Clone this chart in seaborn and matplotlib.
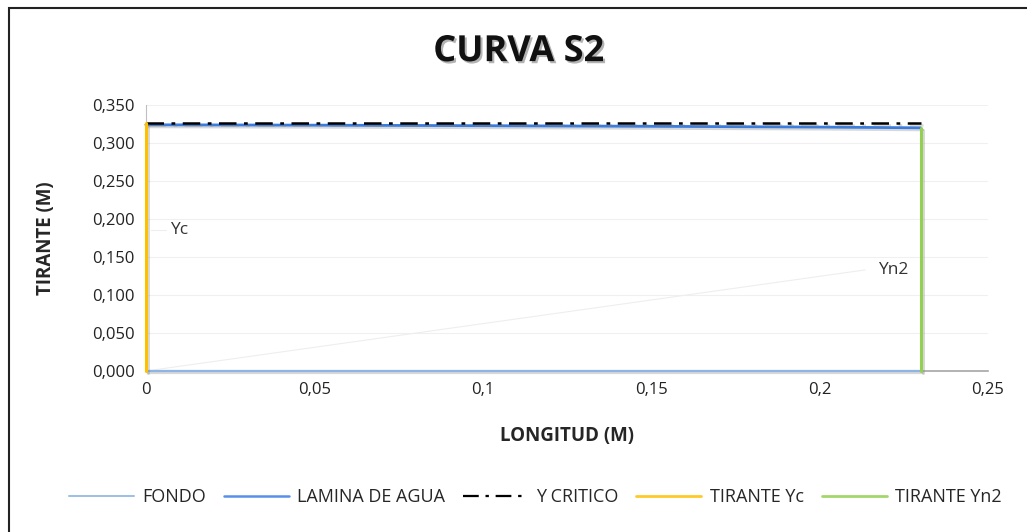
import matplotlib
matplotlib.use("Agg")
import matplotlib.pyplot as plt
import matplotlib.patheffects as pe
from matplotlib.ticker import FuncFormatter, MultipleLocator
from matplotlib.patches import Rectangle
from matplotlib.lines import Line2D
import seaborn as sns
import pandas as pd

# ---- data ----
fondo_x = [0.0, 0.23]
fondo_y = [0.0, 0.0]
lamina_x = [0.0, 0.05, 0.10, 0.15, 0.20, 0.23]
lamina_y = [0.324, 0.3235, 0.3228, 0.3220, 0.3210, 0.3200]
critico_x = [0.0, 0.23]
critico_y = [0.326, 0.326]
yc_x = [0.0, 0.0]
yc_y = [0.0, 0.326]
yn2_x = [0.23, 0.23]
yn2_y = [0.0, 0.320]
label_names = ["Yc", "Yn2"]

sns.set_style("white")
plt.rcParams['font.family'] = ['Open Sans', 'DejaVu Sans']

fig = plt.figure(figsize=(10.27, 5.32), dpi=100)
ax = fig.add_axes([0.142, 0.3026, 0.820, 0.500])

shadow = [pe.SimpleLineShadow(offset=(1.5, -1.5), shadow_color='gray', alpha=0.3), pe.Normal()]

series = [
    ("FONDO", fondo_x, fondo_y, "#8db4e2", "-", 1.6),
    ("LAMINA DE AGUA", lamina_x, lamina_y, "#3a7de0", "-", 2.0),
    ("Y CRITICO", critico_x, critico_y, "#000000", (0, (7, 3, 1.5, 3)), 1.8),
    ("TIRANTE Yc", yc_x, yc_y, "#ffc000", "-", 2.2),
    ("TIRANTE Yn2", yn2_x, yn2_y, "#92d050", "-", 2.2),
]
handles = []
for i, (name, xs, ys, col, ls, lw) in enumerate(series):
    df = pd.DataFrame({"x": xs, "y": ys})
    sns.lineplot(data=df, x="x", y="y", ax=ax, color=col, linestyle=ls, lw=lw,
                 sort=False, estimator=None, path_effects=shadow, zorder=5 + i)
    handles.append(Line2D([], [], color=col, linestyle=ls, lw=lw * 0.9,
                          alpha=0.85 if col != "#000000" else 1))
for ln in ax.get_lines():
    ln.set_clip_on(False)

# data labels with leader lines
ax.plot([0.0015, 0.006], [0.1855, 0.1855], color="#eeeeee", lw=0.8)
ax.text(0.0072, 0.1855, label_names[0], fontsize=12.5, va="center", color="#333333")
ax.plot([0.0, 0.2135], [0.0, 0.133], color="#eeeeee", lw=0.8)
ax.text(0.2175, 0.133, label_names[1], fontsize=12.5, va="center", color="#333333")

ax.set_xlim(0, 0.25)
ax.set_ylim(0, 0.35)
ax.xaxis.set_major_locator(MultipleLocator(0.05))
ax.yaxis.set_major_locator(MultipleLocator(0.05))

def fx(v, p):
    s = f"{v:.2f}".rstrip("0").rstrip(".")
    return s.replace(".", ",")
ax.xaxis.set_major_formatter(FuncFormatter(fx))
ax.yaxis.set_major_formatter(FuncFormatter(lambda v, p: f"{v:.3f}".replace(".", ",")))
ax.tick_params(labelsize=12, colors="#222222", length=0, pad=8)

ax.grid(axis="y", color="#f0f0f0", lw=0.8)
ax.set_axisbelow(True)
for s in ["top", "right"]:
    ax.spines[s].set_visible(False)
ax.spines["left"].set_color("#bfbfbf")
ax.spines["bottom"].set_color("#a6a6a6")
ax.spines["bottom"].set_linewidth(1.2)

ax.set_xlabel("LONGITUD (M)", fontsize=13.5, fontweight="bold", labelpad=20)
ax.set_ylabel("TIRANTE (M)", fontsize=13.5, fontweight="bold", labelpad=26)

fig.text(0.505, 0.902, "CURVA S2", ha="center", va="center", fontsize=26, fontweight="bold",
         color="#111111",
         path_effects=[pe.withSimplePatchShadow(offset=(1.5, -1.5), alpha=0.3)])

labels = [s[0] for s in series]
fig.legend(handles, labels, loc="center", bbox_to_anchor=(0.521, 0.066), ncol=5, frameon=False,
           prop={"size": 13}, handlelength=3.6, columnspacing=1.0, handletextpad=0.45)

fig.patches.append(Rectangle((0.009, -0.01), 1.1, 0.995, transform=fig.transFigure,
                             fill=False, edgecolor="#222222", lw=1.5))

fig.savefig("out.png", dpi=100)
